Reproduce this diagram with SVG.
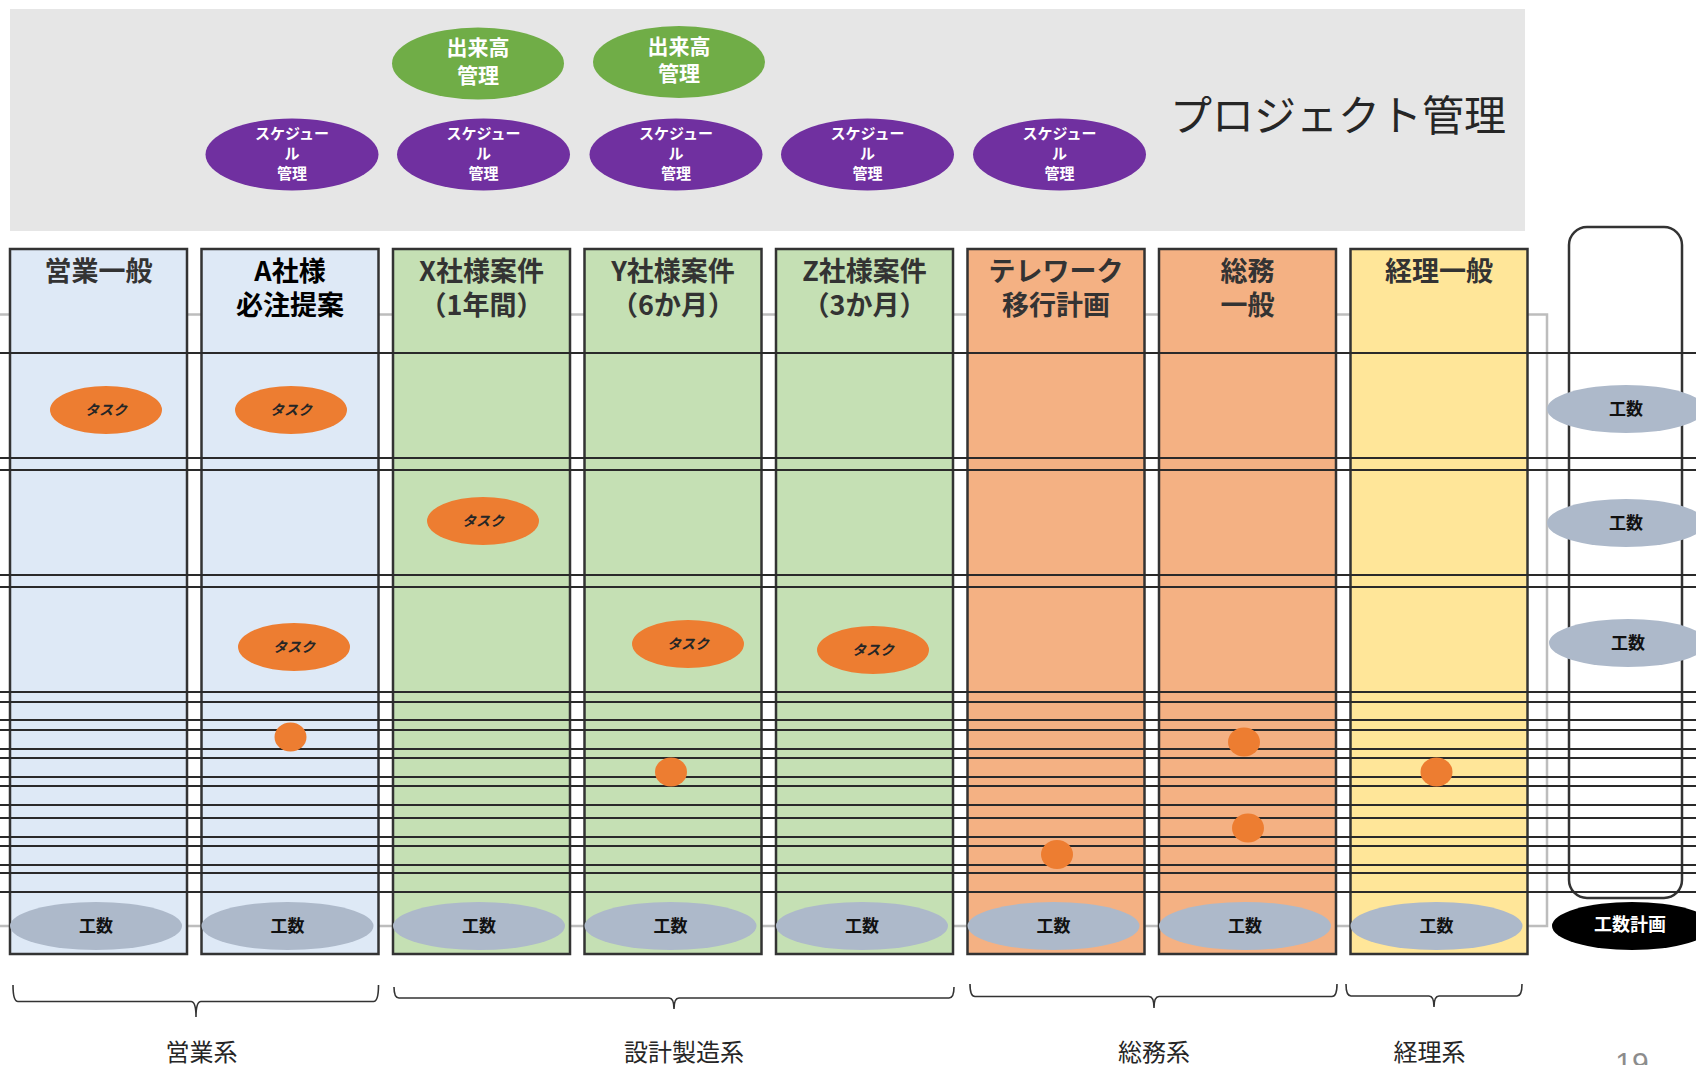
<svg xmlns="http://www.w3.org/2000/svg" width="1696" height="1065" viewBox="0 0 1696 1065">
<style>
text{font-family:"Noto Sans CJK JP","Noto Sans",sans-serif;text-anchor:middle;dominant-baseline:central}
.col{stroke:#333;stroke-width:2.5}
.blue{fill:#dee9f6}.green{fill:#c5e0b4}.orange{fill:#f4b183}.yellow{fill:#ffe699}
.hd{font-size:27px;font-weight:bold;fill:#333}
.grid line{stroke:#2a2a2a;stroke-width:2.2}
.task ellipse{fill:#ed7d31}
.task text{font-size:14px;font-weight:bold;font-style:italic;fill:#262626}
.dot{fill:#ed7d31}
.ks ellipse{fill:#adb9ca}
.ks text{font-size:17px;font-weight:bold;fill:#111}
.dk ellipse{fill:#70ad47}
.dk text{font-size:21px;font-weight:bold;fill:#fff}
.sc ellipse{fill:#7030a0}
.sc text{font-size:15px;font-weight:bold;fill:#fff}
.brace{fill:none;stroke:#333;stroke-width:1.6}
.lbl{font-size:24px;fill:#262626}
</style>

<rect id="pm-bg" x="10" y="9" width="1515" height="222" fill="#e6e6e6"/>
<text x="1338" y="112" font-size="42" fill="#262626">プロジェクト管理</text>

<g id="connectors">
  <path d="M0 314.5 H1547 V926 H0" fill="none" stroke="#bdbdbd" stroke-width="2.5"/>
</g>

<g id="col1"><rect class="col blue" x="10" y="249" width="177" height="705"/><text class="hd" x="98.5" y="269">営業一般</text></g>
<g id="col2"><rect class="col blue" x="201.5" y="249" width="177" height="705"/><text class="hd" x="290" y="269" style="fill:#000">A社様</text><text class="hd" x="290" y="303" style="fill:#000">必注提案</text></g>
<g id="col3"><rect class="col green" x="393" y="249" width="177" height="705"/><text class="hd" x="481.5" y="269">X社様案件</text><text class="hd" x="481.5" y="303">（1年間）</text></g>
<g id="col4"><rect class="col green" x="584.5" y="249" width="177" height="705"/><text class="hd" x="673" y="269">Y社様案件</text><text class="hd" x="673" y="303">（6か月）</text></g>
<g id="col5"><rect class="col green" x="776" y="249" width="177" height="705"/><text class="hd" x="864.5" y="269">Z社様案件</text><text class="hd" x="864.5" y="303">（3か月）</text></g>
<g id="col6"><rect class="col orange" x="967.5" y="249" width="177" height="705"/><text class="hd" x="1056" y="269">テレワーク</text><text class="hd" x="1056" y="303">移行計画</text></g>
<g id="col7"><rect class="col orange" x="1159" y="249" width="177" height="705"/><text class="hd" x="1247.5" y="269">総務</text><text class="hd" x="1247.5" y="303">一般</text></g>
<g id="col8"><rect class="col yellow" x="1350.5" y="249" width="177" height="705"/><text class="hd" x="1439" y="269">経理一般</text></g>

<rect id="plan-frame" x="1569" y="227" width="113" height="671" rx="18" fill="none" stroke="#333" stroke-width="2.5"/>

<g class="grid" id="grid">
  <line x1="0" y1="353" x2="1696" y2="353"/>
  <line x1="0" y1="458" x2="1696" y2="458"/>
  <line x1="0" y1="470" x2="1696" y2="470"/>
  <line x1="0" y1="575" x2="1696" y2="575"/>
  <line x1="0" y1="587" x2="1696" y2="587"/>
  <line x1="0" y1="692" x2="1696" y2="692"/>
  <line x1="0" y1="702" x2="1696" y2="702"/>
  <line x1="0" y1="720" x2="1696" y2="720"/>
  <line x1="0" y1="730" x2="1696" y2="730"/>
  <line x1="0" y1="749" x2="1696" y2="749"/>
  <line x1="0" y1="758" x2="1696" y2="758"/>
  <line x1="0" y1="777" x2="1696" y2="777"/>
  <line x1="0" y1="786" x2="1696" y2="786"/>
  <line x1="0" y1="805" x2="1696" y2="805"/>
  <line x1="0" y1="818" x2="1696" y2="818"/>
  <line x1="0" y1="837" x2="1696" y2="837"/>
  <line x1="0" y1="846" x2="1696" y2="846"/>
  <line x1="0" y1="865" x2="1696" y2="865"/>
  <line x1="0" y1="873" x2="1696" y2="873"/>
  <line x1="0" y1="892" x2="1696" y2="892"/>
</g>

<g id="task1" class="task"><ellipse cx="106" cy="410" rx="56" ry="24"/><text x="106" y="409">タスク</text></g>
<g id="task2" class="task"><ellipse cx="291" cy="410" rx="56" ry="24"/><text x="291" y="409">タスク</text></g>
<g id="task3" class="task"><ellipse cx="483" cy="521" rx="56" ry="24"/><text x="483" y="520">タスク</text></g>
<g id="task4" class="task"><ellipse cx="294" cy="647" rx="56" ry="24"/><text x="294" y="646">タスク</text></g>
<g id="task5" class="task"><ellipse cx="688" cy="644" rx="56" ry="24"/><text x="688" y="643">タスク</text></g>
<g id="task6" class="task"><ellipse cx="873" cy="650" rx="56" ry="24"/><text x="873" y="649">タスク</text></g>

<g id="dots">
  <ellipse class="dot" cx="290.5" cy="737" rx="16" ry="14.5"/>
  <ellipse class="dot" cx="671" cy="772" rx="16" ry="14.5"/>
  <ellipse class="dot" cx="1057" cy="854.5" rx="16" ry="14.5"/>
  <ellipse class="dot" cx="1244" cy="742" rx="16" ry="14.5"/>
  <ellipse class="dot" cx="1248" cy="828" rx="16" ry="14.5"/>
  <ellipse class="dot" cx="1436.5" cy="772" rx="16" ry="14.5"/>
</g>

<g id="ks1" class="ks"><ellipse cx="96" cy="926" rx="86" ry="24"/><text x="96" y="924">工数</text></g>
<g id="ks2" class="ks"><ellipse cx="287.5" cy="926" rx="86" ry="24"/><text x="287.5" y="924">工数</text></g>
<g id="ks3" class="ks"><ellipse cx="479" cy="926" rx="86" ry="24"/><text x="479" y="924">工数</text></g>
<g id="ks4" class="ks"><ellipse cx="670.5" cy="926" rx="86" ry="24"/><text x="670.5" y="924">工数</text></g>
<g id="ks5" class="ks"><ellipse cx="862" cy="926" rx="86" ry="24"/><text x="862" y="924">工数</text></g>
<g id="ks6" class="ks"><ellipse cx="1053.5" cy="926" rx="86" ry="24"/><text x="1053.5" y="924">工数</text></g>
<g id="ks7" class="ks"><ellipse cx="1245" cy="926" rx="86" ry="24"/><text x="1245" y="924">工数</text></g>
<g id="ks8" class="ks"><ellipse cx="1436.5" cy="926" rx="86" ry="24"/><text x="1436.5" y="924">工数</text></g>

<g id="ksr1" class="ks"><ellipse cx="1626" cy="409" rx="79" ry="24"/><text x="1626" y="407">工数</text></g>
<g id="ksr2" class="ks"><ellipse cx="1626" cy="523" rx="79" ry="24"/><text x="1626" y="521">工数</text></g>
<g id="ksr3" class="ks"><ellipse cx="1628" cy="643" rx="79" ry="24"/><text x="1628" y="641">工数</text></g>

<g id="ks-plan"><ellipse cx="1632" cy="926" rx="80" ry="24" fill="#000"/><text x="1630" y="923" font-size="18" font-weight="bold" fill="#fff">工数計画</text></g>

<g id="dk1" class="dk"><ellipse cx="478" cy="63.5" rx="86" ry="36"/><text x="478" y="46">出来高</text><text x="478" y="74">管理</text></g>
<g id="dk2" class="dk"><ellipse cx="679" cy="62" rx="86" ry="36"/><text x="679" y="45">出来高</text><text x="679" y="72">管理</text></g>

<g id="sc1" class="sc"><ellipse cx="292" cy="154.5" rx="86.5" ry="36"/><text x="292" y="132">スケジュー</text><text x="292" y="152.5">ル</text><text x="292" y="172.5">管理</text></g>
<g id="sc2" class="sc"><ellipse cx="483.5" cy="154.5" rx="86.5" ry="36"/><text x="483.5" y="132">スケジュー</text><text x="483.5" y="152.5">ル</text><text x="483.5" y="172.5">管理</text></g>
<g id="sc3" class="sc"><ellipse cx="676" cy="154.5" rx="86.5" ry="36"/><text x="676" y="132">スケジュー</text><text x="676" y="152.5">ル</text><text x="676" y="172.5">管理</text></g>
<g id="sc4" class="sc"><ellipse cx="867.5" cy="154.5" rx="86.5" ry="36"/><text x="867.5" y="132">スケジュー</text><text x="867.5" y="152.5">ル</text><text x="867.5" y="172.5">管理</text></g>
<g id="sc5" class="sc"><ellipse cx="1059.5" cy="154.5" rx="86.5" ry="36"/><text x="1059.5" y="132">スケジュー</text><text x="1059.5" y="152.5">ル</text><text x="1059.5" y="172.5">管理</text></g>

<g id="group-eigyo">
  <path class="brace" d="M13 985 Q13 1001.5 18 1001.5 H191 Q196 1001.5 196 1017 M196 1017 Q196 1001.5 201 1001.5 H373.5 Q378.5 1001.5 378.5 985"/>
  <text class="lbl" x="201.5" y="1050">営業系</text>
</g>
<g id="group-sekkei">
  <path class="brace" d="M394 987 Q394 998 399 998 H669 Q674 998 674 1009 M674 1009 Q674 998 679 998 H949 Q954 998 954 987"/>
  <text class="lbl" x="684" y="1050">設計製造系</text>
</g>
<g id="group-somu">
  <path class="brace" d="M970 984 Q970 996.5 975 996.5 H1149 Q1154 996.5 1154 1008 M1154 1008 Q1154 996.5 1159 996.5 H1332 Q1337 996.5 1337 984"/>
  <text class="lbl" x="1154" y="1050">総務系</text>
</g>
<g id="group-keiri">
  <path class="brace" d="M1346 984 Q1346 996 1351 996 H1429 Q1434 996 1434 1007 M1434 1007 Q1434 996 1439 996 H1517 Q1522 996 1522 984"/>
  <text class="lbl" x="1429.5" y="1050">経理系</text>
</g>

<text x="1632" y="1073" font-size="30" fill="#8c8c8c" style="font-family:'Liberation Sans',sans-serif;dominant-baseline:auto">19</text>
</svg>
